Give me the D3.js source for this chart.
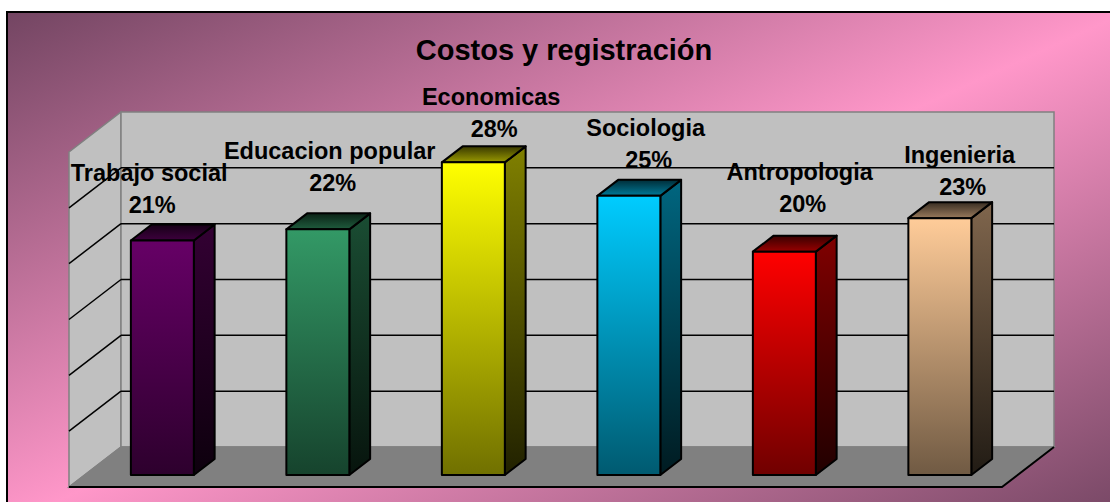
<!DOCTYPE html>
<html>
<head>
<meta charset="utf-8">
<script src="https://cdn.jsdelivr.net/npm/d3@7"></script>
<style>
  html, body { margin: 0; padding: 0; background: #ffffff; }
  svg { display: block; }
</style>
</head>
<body>
<svg id="chart" width="1110" height="502"></svg>
<script>
// ---------- DATA ----------
const title = "Costos y registración";
const categories = ["Trabajo social", "Educacion popular", "Economicas", "Sociologia", "Antropologia", "Ingenieria"];
const values = [21, 22, 28, 25, 20, 23];
const percentLabels = ["21%", "22%", "28%", "25%", "20%", "23%"];
const gridTicks = [5, 10, 15, 20, 25];
const axisMax = 30;
const barColors = ["#660066", "#339966", "#ffff00", "#00ccff", "#ff0000", "#ffcc99"];

// ---------- LAYOUT ----------
const W = 1110, H = 502;
const svg = d3.select("#chart");
const defs = svg.append("defs");

const frontLeft = 69, frontRight = 1002, floorFront = 487, topFront = 152;
const depthDX = 52, depthDY = -40;
const zFront = 0.3, zBack = 0.7;
// label offsets (dx, dy) relative to bar's back-top centre, as placed in the reference
const labelShift = [[-31, -11.5], [-6, -22.3], [0, -9.3], [-1, -11.8], [-2.5, -23.7], [2, -7.2]];

const x = d3.scaleBand().domain(categories).range([frontLeft, frontRight])
  .paddingInner(0.595).paddingOuter(0.2975);
const y = d3.scaleLinear().domain([0, axisMax]).range([floorFront, topFront]);
const P = (px, v, z) => [px + z * depthDX, y(v) + z * depthDY];
const pts = arr => arr.map(p => p.join(",")).join(" ");

// background gradient
const bg = defs.append("linearGradient").attr("id", "bg")
  .attr("x1", 0).attr("y1", 0).attr("x2", 1).attr("y2", 1);
bg.append("stop").attr("offset", 0).attr("stop-color", "#734562");
bg.append("stop").attr("offset", 0.5).attr("stop-color", "#ff97c9");
bg.append("stop").attr("offset", 1).attr("stop-color", "#734562");

svg.append("rect").attr("x", 7).attr("y", 12).attr("width", W + 10).attr("height", H + 10)
  .attr("fill", "url(#bg)").attr("stroke", "#000").attr("stroke-width", 2);

// walls
const wallStroke = "#808080";
svg.append("polygon")
  .attr("points", pts([P(frontLeft, 0, 0), P(frontLeft, axisMax, 0), P(frontLeft, axisMax, 1), P(frontLeft, 0, 1)]))
  .attr("fill", "#c0c0c0").attr("stroke", wallStroke).attr("stroke-width", 1.5);
svg.append("polygon")
  .attr("points", pts([P(frontLeft, 0, 1), P(frontLeft, axisMax, 1), P(frontRight, axisMax, 1), P(frontRight, 0, 1)]))
  .attr("fill", "#c0c0c0").attr("stroke", wallStroke).attr("stroke-width", 1.5);
// floor
svg.append("polygon")
  .attr("points", pts([P(frontLeft, 0, 0), P(frontLeft, 0, 1), P(frontRight, 0, 1), P(frontRight, 0, 0)]))
  .attr("fill", "#808080").attr("stroke", wallStroke).attr("stroke-width", 1.5);
svg.append("polyline")
  .attr("points", pts([P(frontLeft, 0, 0), P(frontRight, 0, 0), P(frontRight, 0, 1)]))
  .attr("fill", "none").attr("stroke", "#000").attr("stroke-width", 2);

// gridlines
gridTicks.forEach(t => {
  svg.append("line")
    .attr("x1", P(frontLeft, t, 1)[0]).attr("y1", P(frontLeft, t, 1)[1])
    .attr("x2", P(frontRight, t, 1)[0]).attr("y2", P(frontRight, t, 1)[1])
    .attr("stroke", "#000").attr("stroke-width", 1.5);
  svg.append("line")
    .attr("x1", P(frontLeft, t, 0)[0]).attr("y1", P(frontLeft, t, 0)[1])
    .attr("x2", P(frontLeft, t, 1)[0]).attr("y2", P(frontLeft, t, 1)[1])
    .attr("stroke", "#000").attr("stroke-width", 1.5);
});

// bar gradients
function shade(c, k) { const r = d3.rgb(c); return d3.rgb(r.r * k, r.g * k, r.b * k).formatHex(); }
function vgrad(id, c1, c2) {
  const g = defs.append("linearGradient").attr("id", id).attr("x1", 0).attr("y1", 0).attr("x2", 0).attr("y2", 1);
  g.append("stop").attr("offset", 0).attr("stop-color", c1);
  g.append("stop").attr("offset", 1).attr("stop-color", c2);
}
barColors.forEach((c, i) => {
  vgrad("front" + i, c, shade(c, 0.44));
  vgrad("side" + i, shade(c, 0.5), shade(c, 0.13));
  vgrad("top" + i, shade(c, 0.22), shade(c, 0.6));
});

// bars
const bw = x.bandwidth();
categories.forEach((cat, i) => {
  const v = values[i];
  const x0 = x(cat), x1 = x(cat) + bw;
  const g = svg.append("g").attr("stroke", "#000").attr("stroke-width", 2).attr("stroke-linejoin", "round");
  g.append("polygon").attr("fill", `url(#side${i})`)
    .attr("points", pts([P(x1, 0, zFront), P(x1, v, zFront), P(x1, v, zBack), P(x1, 0, zBack)]));
  g.append("polygon").attr("fill", `url(#top${i})`)
    .attr("points", pts([P(x0, v, zFront), P(x0, v, zBack), P(x1, v, zBack), P(x1, v, zFront)]));
  g.append("polygon").attr("fill", `url(#front${i})`)
    .attr("points", pts([P(x0, 0, zFront), P(x0, v, zFront), P(x1, v, zFront), P(x1, 0, zFront)]));
});

// labels
const font = "Arial, 'Liberation Sans', sans-serif";
categories.forEach((cat, i) => {
  const [ax, ay] = P(x(cat) + bw / 2, values[i], zBack);
  const px = ax + labelShift[i][0], py = ay + labelShift[i][1];
  svg.append("text").attr("x", px).attr("y", py).attr("text-anchor", "middle")
    .attr("font-family", font).attr("font-weight", "bold").attr("font-size", 23.5)
    .text(percentLabels[i]);
  svg.append("text").attr("x", px - 3).attr("y", py - 32).attr("text-anchor", "middle")
    .attr("font-family", font).attr("font-weight", "bold").attr("font-size", 23.5)
    .text(cat);
});

// title
svg.append("text").attr("x", 564).attr("y", 60).attr("text-anchor", "middle")
  .attr("font-family", font).attr("font-weight", "bold").attr("font-size", 29)
  .text(title);
</script>
</body>
</html>
